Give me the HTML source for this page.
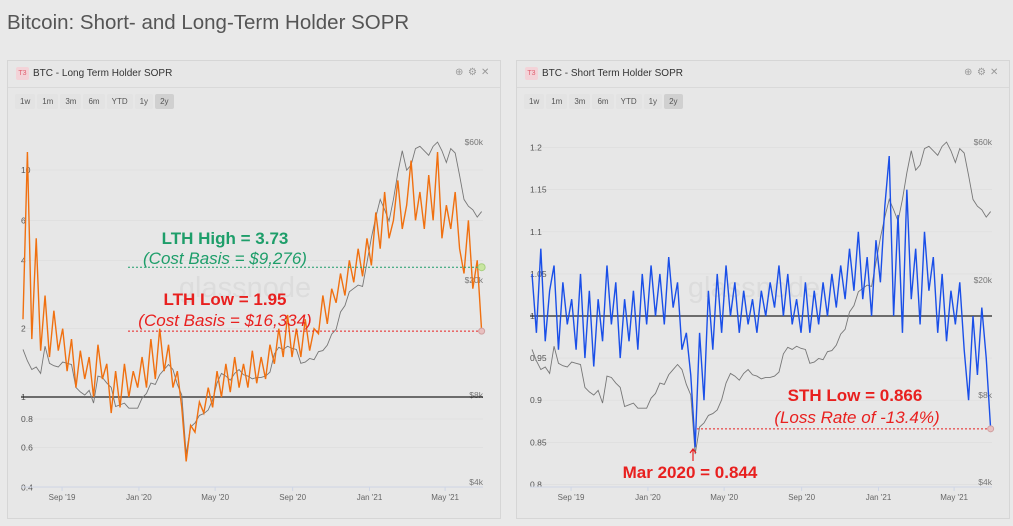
<!DOCTYPE html>
<html><head><meta charset="utf-8">
<style>
body{margin:0;width:1013px;height:526px;background:#e9e9e9;font-family:"Liberation Sans",sans-serif;overflow:hidden;position:relative}
.title{position:absolute;left:7px;top:11px;font-size:20.5px;color:#555}
.panel{position:absolute;top:60px;width:492px;height:457px;border:1px solid #d6d6d6;background:#e7e7e7}
.hdr{position:absolute;left:0;top:0;right:0;height:26px;border-bottom:1px solid #d9d9d9}
.logo{position:absolute;left:8px;top:6px;width:13px;height:13px;background:#f3d3d8;color:#e06070;font-size:7px;line-height:13px;text-align:center;border-radius:2px}
.ht{position:absolute;left:25px;top:7px;font-size:10px;color:#333}
.ic{position:absolute;top:6px;font-size:10px;color:#999}
.btns{position:absolute;left:7px;top:33px;font-size:8px;color:#555}
.btns span{display:inline-block;padding:3px 5px;margin-right:2px;background:#e3e3e3;border-radius:2px}
.btns span.on{background:#d0d0d0}
svg{position:absolute;left:0;top:0}
</style></head><body>
<div class="title">Bitcoin: Short- and Long-Term Holder SOPR</div>
<div class="panel" style="left:7px">
 <div class="hdr"><div class="logo">T3</div><div class="ht">BTC - Long Term Holder SOPR</div>
 <div class="ic" style="left:447px">⊕</div><div class="ic" style="left:460px">⚙</div><div class="ic" style="left:473px">✕</div></div>
 <div class="btns"><span>1w</span><span>1m</span><span>3m</span><span>6m</span><span>YTD</span><span>1y</span><span class="on">2y</span></div>
</div>
<div class="panel" style="left:516px">
 <div class="hdr"><div class="logo">T3</div><div class="ht">BTC - Short Term Holder SOPR</div>
 <div class="ic" style="left:447px">⊕</div><div class="ic" style="left:460px">⚙</div><div class="ic" style="left:473px">✕</div></div>
 <div class="btns"><span>1w</span><span>1m</span><span>3m</span><span>6m</span><span>YTD</span><span>1y</span><span class="on">2y</span></div>
</div>
<svg id="s" width="1013" height="526"></svg>
<script>
const price=[11.5,10.5,9.8,10.0,9.5,11.8,10.3,10.1,10.0,10.4,10.3,10.2,8.5,8.2,8.0,8.3,7.5,9.3,9.2,8.8,8.5,7.3,7.4,7.5,7.2,7.2,7.2,7.8,8.1,8.8,8.7,9.4,9.8,10.2,9.8,8.7,8.0,5.0,6.2,6.4,6.8,6.9,7.1,7.7,8.8,9.5,9.3,9.0,9.5,9.8,9.4,9.3,9.1,9.2,9.2,9.3,9.6,11.1,11.7,11.5,11.8,11.6,11.5,10.3,10.4,10.7,10.6,11.3,11.4,11.9,13.0,13.5,15.5,16.3,18.2,18.7,19.2,19.0,23.0,28.0,33.0,38.0,35.0,32.0,38.0,47.0,56.0,48.0,50.0,57.0,58.0,56.0,54.0,58.0,60.0,56.0,51.0,57.0,55.0,46.0,38.0,36.0,35.0,33.0,34.5];
const lth=[2.2,12.0,1.8,5.0,1.6,2.8,1.5,2.4,1.6,2.0,1.3,1.8,1.1,1.6,1.2,1.5,1.0,1.7,1.2,1.4,0.85,1.3,0.9,1.4,1.0,1.3,1.1,1.5,1.1,1.8,1.2,2.0,1.3,1.7,1.1,1.3,0.9,0.52,0.75,0.7,0.95,0.85,1.1,0.9,1.3,1.0,1.4,1.05,1.5,1.1,1.4,1.1,1.6,1.15,1.5,1.2,1.7,1.4,2.0,1.5,2.3,1.5,2.0,1.5,2.2,1.6,2.0,1.9,2.8,2.1,3.0,2.6,3.5,2.8,4.0,3.2,4.5,3.4,5.0,3.8,6.5,4.5,8.0,5.0,6.0,9.0,5.5,7.0,11.0,6.0,8.0,5.5,9.5,6.0,12.0,5.0,7.0,5.5,8.0,4.5,3.5,6.0,3.0,4.0,1.95];
const sth=[1.05,0.98,1.08,0.97,1.03,1.06,0.96,1.04,0.99,1.02,0.96,1.05,0.95,1.03,0.94,1.02,0.97,1.06,0.99,1.04,0.95,1.02,0.97,1.03,0.96,1.05,0.99,1.06,1.00,1.05,0.99,1.07,1.01,1.04,0.96,0.98,0.93,0.844,0.98,0.90,1.03,0.96,1.05,0.98,1.06,1.00,1.04,0.98,1.03,0.99,1.02,0.98,1.03,1.00,1.04,1.01,1.06,1.00,1.05,0.99,1.02,0.98,1.04,0.98,1.03,0.99,1.04,1.00,1.05,1.01,1.06,1.02,1.08,1.03,1.10,1.02,1.07,1.00,1.09,1.04,1.13,1.19,1.00,1.12,0.98,1.15,1.02,1.08,0.99,1.10,1.03,1.07,0.98,1.05,0.97,1.03,0.99,1.04,0.96,0.90,1.00,0.93,1.01,0.95,0.866];
const xLabels=["Sep '19","Jan '20","May '20","Sep '20","Jan '21","May '21"];
const xLabelDays=[62,184,305,428,550,670];
const lthTicks=[10,6,4,2,1,0.8,0.6,0.4];
const sthTicks=[1.2,1.15,1.1,1.05,1,0.95,0.9,0.85,0.8];
const priceTicks=[60,20,8,4];
const S=document.getElementById('s');const NS='http://www.w3.org/2000/svg';
function mk(t,a,txt){const e=document.createElementNS(NS,t);for(const k in a)e.setAttribute(k,a[k]);if(txt!==undefined)e.textContent=txt;S.appendChild(e);return e;}
function panel(ox,yFn,vals,color,ticks,name,refv){
  const x=d=>ox+23+d*0.63;
  const py=p=>482-87*Math.log2(p/4);
  for(const t of ticks){const l=mk('line',{x1:ox+21,x2:ox+483,y1:yFn(t),y2:yFn(t),stroke:'#dcdcdc','stroke-width':0.6});
    const e=mk('text',{x:ox+21,y:yFn(t)+3,'font-size':8.5,fill:'#555'},String(t));}
  for(const t of priceTicks){const e=mk('text',{x:ox+483,y:py(t)+3,'font-size':8.5,fill:'#777','text-anchor':'end'},'$'+t+'k');}
  const ax=mk('line',{x1:ox+21,x2:ox+483,y1:487,y2:487,stroke:'#cfd6e6','stroke-width':1});
  xLabels.forEach((lb,i)=>{const tk=mk('line',{x1:x(xLabelDays[i]),x2:x(xLabelDays[i]),y1:487,y2:491,stroke:'#cfd6e6'});
    const e=mk('text',{x:x(xLabelDays[i]),y:500,'font-size':8,fill:'#666','text-anchor':'middle'},lb);});
  const wm=mk('text',{x:ox+245,y:297,'font-size':29,fill:'#dcdcdc','text-anchor':'middle'},'glassnode');
  const rl=mk('line',{x1:ox+21,x2:ox+483,y1:yFn(refv),y2:yFn(refv),stroke:'#222','stroke-width':1.2});
  const pp=mk('polyline',{points:price.map((p,i)=>x(i*7)+','+py(p)).join(' '),fill:'none',stroke:'#777','stroke-width':0.9});
  const sp=mk('polyline',{points:vals.map((v,i)=>x(i*7)+','+yFn(v)).join(' '),fill:'none',stroke:color,'stroke-width':1.4});
  return x;
}
const ly=v=>397-227*Math.log10(v);
const sy=v=>316-(v-1)*842;
const lx=panel(0,ly,lth,'#f07010',lthTicks,'lth-sopr-line',1);
const rx=panel(509,sy,sth,'#1a4fe8',sthTicks,'sth-sopr-line',1);
function ann(x,y,txt,col,sz,it,name){const e=mk('text',{x:x,y:y,'font-size':sz,fill:col,'text-anchor':'middle','font-weight':it?'normal':'bold','font-style':it?'italic':'normal'},txt);}
const hl=mk('line',{x1:128,x2:lx(104*7),y1:ly(3.73),y2:ly(3.73),stroke:'#1e9e6a','stroke-dasharray':'2,2'});
const hc=mk('circle',{cx:lx(104*7),cy:ly(3.73),r:3.5,fill:'#c8e6a0',stroke:'#a8d080'});
const ll=mk('line',{x1:128,x2:lx(104*7),y1:ly(1.95),y2:ly(1.95),stroke:'#e8201f','stroke-dasharray':'2,2'});
const lc=mk('circle',{cx:lx(104*7),cy:ly(1.95),r:3,fill:'#e8c0c0',stroke:'#d0a0a0'});
ann(225,244,'LTH High = 3.73','#1e9e6a',17,false,'lth-high-label');
ann(225,264,'(Cost Basis = $9,276)','#1e9e6a',17,true,'lth-cost-basis-high');
ann(225,305,'LTH Low = 1.95','#e8201f',17,false,'lth-low-label');
ann(225,326,'(Cost Basis = $16,334)','#e8201f',17,true,'lth-cost-basis-low');
const sl=mk('line',{x1:697,x2:rx(104*7),y1:sy(0.866),y2:sy(0.866),stroke:'#e8201f','stroke-dasharray':'2,2'});
const sc=mk('circle',{cx:rx(104*7),cy:sy(0.866),r:3,fill:'#e8c0c0',stroke:'#d0a0a0'});
ann(855,401,'STH Low = 0.866','#e8201f',17,false,'sth-low-label');
ann(857,423,'(Loss Rate of -13.4%)','#e8201f',17,true,'sth-loss-rate');
ann(690,478,'Mar 2020 = 0.844','#e8201f',17,false,'mar-2020-label');
const ar=mk('path',{d:'M693,461 L693,450 M690,453 L693,449 L696,453',stroke:'#e8201f','stroke-width':1.2,fill:'none'});
</script>
</body></html>
